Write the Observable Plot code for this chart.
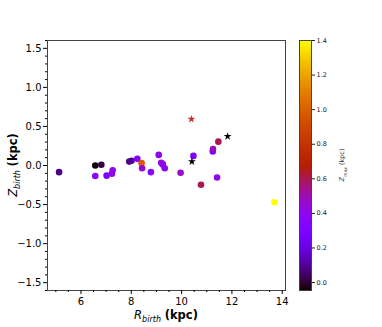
<!DOCTYPE html>
<html>
<head>
<meta charset="utf-8">
<script src="https://cdn.jsdelivr.net/npm/d3@7"></script>
<script src="https://cdn.jsdelivr.net/npm/@observablehq/plot@0.6"></script>
<style>
  body { margin: 0; background: white; font-family: "DejaVu Sans", sans-serif; }
  #wrap { position: relative; width: 382px; height: 327px; overflow: hidden; }
  .abs { position: absolute; white-space: nowrap; }
  #main { left: 0; top: 0; }
  #cbar { left: 299px; top: 0; }
  #xlab { left: 166px; top: 308px; transform: translateX(-50%); font-size: 11.5px; }
  #ylab { left: 14px; top: 165px; transform: translate(-50%, -50%) rotate(-90deg); font-size: 11.5px; }
  #clab { left: 343px; top: 165px; transform: translate(-50%, -50%) rotate(-90deg); font-size: 6.5px; color: #333; }
  sub { font-size: 0.7em; }
</style>
</head>
<body>
<div id="wrap">
  <div id="main" class="abs"></div>
  <div id="cbar" class="abs"></div>
  <div id="xlab" class="abs"><i>R</i><sub><i>birth</i></sub> <b>(kpc)</b></div>
  <div id="ylab" class="abs"><i>Z</i><sub><i>birth</i></sub> <b>(kpc)</b></div>
  <div id="clab" class="abs"><i>Z</i><sub><i>max</i></sub> (kpc)</div>
</div>
<script>
// ---- data ----
const rBirth = [5.13, 6.57, 6.81, 7.92, 8.01, 8.24, 8.41, 8.43, 6.57, 7.02, 7.23, 7.26, 8.78, 9.09, 9.25, 9.19, 9.25, 9.33, 9.96, 10.47, 10.77, 11.41, 11.24, 11.25, 11.46, 13.69];
const zBirth = [-0.085, 0.00, 0.01, 0.05, 0.06, 0.085, 0.03, -0.035, -0.135, -0.13, -0.105, -0.06, -0.085, 0.136, 0.015, 0.035, 0.013, -0.035, -0.093, 0.123, -0.246, -0.153, 0.18, 0.212, 0.305, -0.47];
const zMax   = [0.08, -0.04, 0.02, 0.08, 0.10, 0.33, 0.98, 0.45, 0.38, 0.30, 0.38, 0.42, 0.36, 0.40, 0.08, 0.42, 0.42, 0.40, 0.47, 0.30, 0.60, 0.40, 0.32, 0.48, 0.60, 1.40];
const blackStarR = [10.41, 11.83];
const blackStarZ = [0.05, 0.373];
const redStarR = [10.39];
const redStarZ = [0.594];
const xTicks = [6, 8, 10, 12, 14];
const xMinor = [5, 5.5, 6.5, 7, 7.5, 8.5, 9, 9.5, 10.5, 11, 11.5, 12.5, 13, 13.5];
const yTicks = [-1.5, -1.0, -0.5, 0.0, 0.5, 1.0, 1.5];
const yMinor = d3.range(-16, 17).map(i => i / 10).filter(v => Math.abs(v * 2 - Math.round(v * 2)) > 1e-9);
const cTicks = [0.0, 0.2, 0.4, 0.6, 0.8, 1.0, 1.2, 1.4];
const cDomain = [-0.046, 1.4];

const points = rBirth.map((r, i) => ({r, z: zBirth[i], zmax: zMax[i]}));
const blackStars = blackStarR.map((r, i) => ({r, z: blackStarZ[i]}));
const redStars = redStarR.map((r, i) => ({r, z: redStarZ[i]}));

// matplotlib "gnuplot" colormap
function gnuplot(t) {
  t = Math.max(0, Math.min(1, t));
  const r = Math.sqrt(t), g = t * t * t, b = Math.max(0, Math.sin(2 * Math.PI * t));
  return d3.rgb(r * 255, g * 255, b * 255).toString();
}
const colorOpts = {type: "linear", domain: cDomain, interpolate: gnuplot};

const main = Plot.plot({
  width: 290, height: 327,
  marginLeft: 47, marginRight: 5, marginTop: 40, marginBottom: 37,
  style: {fontFamily: "DejaVu Sans", fontSize: "10px", color: "black", background: "white"},
  x: {domain: [4.67, 14.13], label: null},
  y: {domain: [-1.6, 1.6], label: null},
  color: colorOpts,
  marks: [
    Plot.frame({stroke: "#444"}),
    Plot.axisX(xTicks, {tickSize: 4, tickPadding: 3, tickFormat: d => String(d), label: null}),
    Plot.axisX(xMinor, {tickSize: 2, tickFormat: () => "", label: null}),
    Plot.axisY(yTicks, {tickSize: 4, tickPadding: 2, tickFormat: d => d3.format(".1f")(d).replace("-", "\u2212"), label: null}),
    Plot.axisY(yMinor, {tickSize: 2, tickFormat: () => "", label: null}),
    Plot.dot(points, {x: "r", y: "z", fill: "zmax", r: 3.3, stroke: null}),
    Plot.dot(blackStars, {x: "r", y: "z", symbol: "star", fill: "black", r: 2.5}),
    Plot.dot(redStars, {x: "r", y: "z", symbol: "star", fill: "#c4302c", r: 2.5})
  ]
});
document.getElementById("main").appendChild(main);

const cbar = Plot.plot({
  width: 62, height: 327,
  marginLeft: 0, marginRight: 50, marginTop: 40, marginBottom: 37,
  style: {fontFamily: "DejaVu Sans", fontSize: "6.5px", color: "#222", background: "transparent"},
  x: {domain: [0, 1], axis: null},
  y: {domain: cDomain, label: null},
  color: colorOpts,
  marks: [
    Plot.raster({x1: 0, x2: 1, y1: cDomain[0], y2: cDomain[1], width: 1, height: 300, fill: (x, y) => y, imageRendering: "auto"}),
    Plot.axisY(cTicks, {anchor: "right", tickSize: 3, tickPadding: 2, tickFormat: d3.format(".1f"), label: null}),
    Plot.frame({stroke: "#444"})
  ]
});
document.getElementById("cbar").appendChild(cbar);
</script>
</body>
</html>
